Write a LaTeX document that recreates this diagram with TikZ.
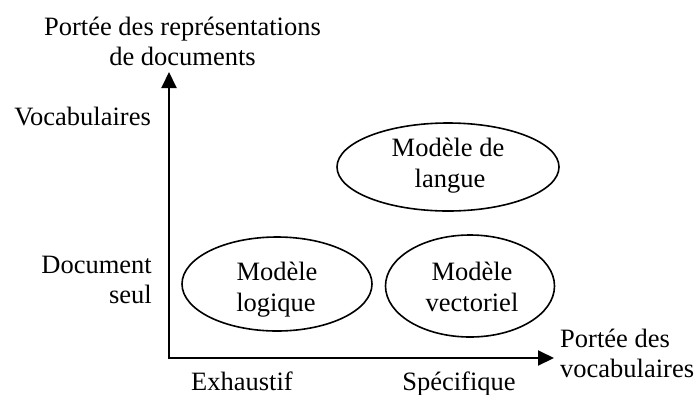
\documentclass[tikz,border=0pt]{standalone}
\usepackage{fontspec}
\setmainfont{Liberation Serif}
\usetikzlibrary{arrows.meta,shapes.geometric}
\begin{document}
\begin{tikzpicture}[x=1pt,y=-1pt,
  lbl/.style={font=\fontsize{26.5}{30}\selectfont, inner sep=0pt, anchor=base},
  lblr/.style={lbl, anchor=base east},
  lbll/.style={lbl, anchor=base west},
  axis/.style={line width=2pt, -{Triangle[length=16pt,width=15pt]}},
  model/.style={draw, line width=1.6pt, ellipse, inner sep=0pt}]
\useasboundingbox (0,0) rectangle (695,394);
\coordinate (O) at (169,359);
\coordinate (ytip) at (169,72);
\coordinate (xtip) at (554,358);
\draw[axis] (169,359) -- (ytip);
\draw[axis] (168,358) -- (xtip);
\node[model, minimum width=222pt, minimum height=88pt] (langue) at (448,167) {};
\node[model, minimum width=190pt, minimum height=94pt] (logique) at (277,284) {};
\node[model, minimum width=169pt, minimum height=102pt] (vect) at (470,286) {};
\node[lbl] (t1) at (448,156) {Modèle de};
\node[lbl] (t2) at (450,187) {langue};
\node[lbl] (t3) at (277,280) {Modèle};
\node[lbl] (t4) at (276,311) {logique};
\node[lbl] (t5) at (472,280) {Modèle};
\node[lbl] (t6) at (472,311) {vectoriel};
\node[lbl] (yl1) at (182.5,35) {Portée des représentations};
\node[lbl] (yl2) at (182.5,65) {de documents};
\node[lblr] (voc) at (151,125) {Vocabulaires};
\node[lblr] (doc) at (152,273) {Document};
\node[lblr] (seul) at (152,303) {seul};
\node[lbll] (xl1) at (560,347) {Portée des};
\node[lbll] (xl2) at (560,377) {vocabulaires};
\node[lbl] (exh) at (242,390) {Exhaustif};
\node[lbl] (spec) at (459,390) {Spécifique};
\end{tikzpicture}
\end{document}
